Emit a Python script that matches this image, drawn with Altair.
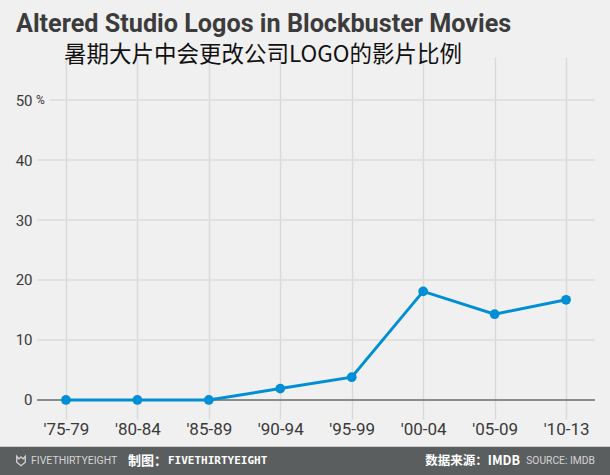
import altair as alt
import pandas as pd

periods = ["'75-79", "'80-84", "'85-89", "'90-94", "'95-99", "'00-04", "'05-09", "'10-13"]
shares = [0, 0, 0, 1.9, 3.8, 18.1, 14.3, 16.7]
grid_minor = [10, 20, 30, 40]
grid_top = [50]
y_ticks = [0, 10, 20, 30, 40, 50]

title_text = "Altered Studio Logos in Blockbuster Movies"
subtitle_text = "暑期大片中会更改公司LOGO的影片比例"
footer_brand = "FIVETHIRTYEIGHT"
footer_maker_cn = "制图："
footer_maker = "FIVETHIRTYEIGHT"
footer_source_cn = "数据来源：IMDB"
footer_source_en = "SOURCE: IMDB"

W, H = 558, 362
BLUE = "#008fd5"
FONT = "Roboto"

df = pd.DataFrame({"period": periods, "share": shares})
one = pd.DataFrame({"a": [0]})

x_enc = alt.X(
    "period:N",
    sort=periods,
    scale=alt.Scale(type="point", padding=0.405),
    axis=alt.Axis(
        title=None, domain=False, ticks=False, grid=True,
        gridColor="#d9d9d9", gridWidth=1.5,
        labelFont=FONT, labelFontSize=17, labelColor="#3a3a3a",
        labelPadding=2, labelAngle=0,
    ),
)
y_scale = alt.Scale(domain=[-3.17, 57.17], nice=False, zero=False)
y_axis = alt.Axis(
    title=None, values=y_ticks, domain=False, ticks=False, grid=False,
    labelFont=FONT, labelFontSize=15, labelColor="#3a3a3a", labelPadding=5,
)

hgrid = alt.Chart(pd.DataFrame({"share": grid_minor})).mark_rule(
    color="#dcdcdc", strokeWidth=1.5
).encode(y=alt.Y("share:Q", scale=y_scale, axis=y_axis))

hgrid_top = alt.Chart(pd.DataFrame({"share": grid_top})).mark_rule(
    color="#dcdcdc", strokeWidth=1.5
).encode(y=alt.Y("share:Q"), x=alt.value(13), x2=alt.value(W))

pct = alt.Chart(pd.DataFrame({"share": grid_top})).mark_text(
    text="%", align="left", baseline="middle", fontSize=12, font=FONT, color="#3a3a3a"
).encode(y=alt.Y("share:Q"), x=alt.value(-1))

zero = alt.Chart(pd.DataFrame({"share": [0]})).mark_rule(
    color="#8c8c8c", strokeWidth=2
).encode(y=alt.Y("share:Q"))

line = alt.Chart(df).mark_line(color=BLUE, strokeWidth=3).encode(
    x=x_enc, y=alt.Y("share:Q")
)
pts = alt.Chart(df).mark_circle(color=BLUE, size=95, opacity=1).encode(
    x=alt.X("period:N", sort=periods), y=alt.Y("share:Q")
)

title = alt.Chart(one).mark_text(
    text=title_text, align="left", baseline="alphabetic",
    font=FONT, fontSize=25.2, fontWeight="bold", color="#3c3c3c"
).encode(x=alt.value(-21), y=alt.value(-25))

subtitle = alt.Chart(one).mark_text(
    text=subtitle_text, align="left", baseline="alphabetic",
    font="Noto Sans CJK SC", fontSize=22.5, color="#111111"
).encode(x=alt.value(27), y=alt.value(4.5))

footer_bg = alt.Chart(one).mark_rect(color="#5b5e5f").encode(
    x=alt.value(-37), x2=alt.value(W + 15), y=alt.value(389.7), y2=alt.value(H + 56)
)

logo = alt.Chart(one).mark_point(
    shape="M-0.9,-1 L-0.45,-0.45 L0,-0.85 L0.45,-0.45 L0.9,-1 L0.9,0.25 L0,1 L-0.9,0.25 Z",
    filled=False, color="#d4d4d4", strokeWidth=1.3, size=90, opacity=1
).encode(x=alt.value(-16), y=alt.value(404))

f1 = alt.Chart(one).mark_text(
    text=footer_brand, align="left", baseline="middle",
    font=FONT, fontSize=10.5, color="#d4d4d4"
).encode(x=alt.value(-6), y=alt.value(404))
f2a = alt.Chart(one).mark_text(
    text=footer_maker_cn, align="left", baseline="middle",
    font="Noto Sans CJK SC", fontSize=13, fontWeight="bold", color="#ffffff"
).encode(x=alt.value(91), y=alt.value(404))
f2b = alt.Chart(one).mark_text(
    text=footer_maker, align="left", baseline="middle",
    font="DejaVu Sans Mono", fontSize=11, fontWeight="bold", color="#ffffff"
).encode(x=alt.value(131), y=alt.value(404))
f3 = alt.Chart(one).mark_text(
    text=footer_source_cn, align="right", baseline="middle",
    font="Noto Sans CJK SC", fontSize=12.5, fontWeight="bold", color="#ffffff"
).encode(x=alt.value(483), y=alt.value(404))
f4 = alt.Chart(one).mark_text(
    text=footer_source_en, align="right", baseline="middle",
    font=FONT, fontSize=10.3, color="#d4d4d4"
).encode(x=alt.value(558), y=alt.value(404))

chart = alt.layer(
    hgrid, hgrid_top, pct, zero, line, pts, title, subtitle,
    footer_bg, logo, f1, f2a, f2b, f3, f4
).properties(
    width=W, height=H,
    padding={"left": 37, "top": 57, "right": 15, "bottom": 56},
    autosize=alt.AutoSizeParams(type="none"),
    background="#f0f0f0",
).configure_view(stroke=None)

chart.save("out.html", embed_options={"renderer": "svg", "actions": False})
